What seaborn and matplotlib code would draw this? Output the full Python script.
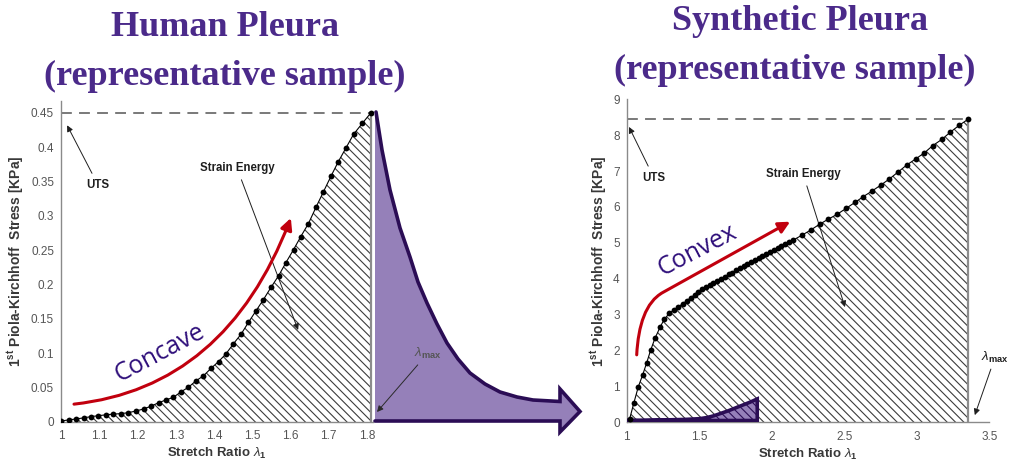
import matplotlib
matplotlib.use("Agg")
import matplotlib.pyplot as plt
from matplotlib.path import Path
from matplotlib.patches import FancyArrowPatch, Polygon
import pandas as pd
import seaborn as sns

# ---------------- data ----------------
# Human pleura: stretch ratio vs 1st Piola-Kirchhoff stress [KPa]
human_stretch = [1.000, 1.020, 1.039, 1.059, 1.078, 1.098, 1.118, 1.137, 1.157, 1.176,
                 1.196, 1.216, 1.235, 1.255, 1.274, 1.294, 1.314, 1.333, 1.353, 1.372,
                 1.392, 1.412, 1.431, 1.451, 1.471, 1.490, 1.510, 1.529, 1.549, 1.569,
                 1.588, 1.608, 1.627, 1.647, 1.667, 1.686, 1.706, 1.725, 1.745, 1.765,
                 1.788, 1.810]
human_stress = [0.0015, 0.003, 0.0044, 0.006, 0.0078, 0.0092, 0.0105, 0.0115, 0.0122, 0.0136,
                0.016, 0.019, 0.023, 0.028, 0.032, 0.036, 0.044, 0.0505, 0.060, 0.067,
                0.078, 0.088, 0.099, 0.114, 0.128, 0.145, 0.162, 0.178, 0.196, 0.213,
                0.232, 0.251, 0.270, 0.289, 0.313, 0.335, 0.358, 0.379, 0.399, 0.419,
                0.435, 0.450]
human_uts = 0.45
human_lmax = 1.81

# Synthetic pleura
synthetic_stretch = [1.020, 1.050, 1.080, 1.110, 1.138, 1.165, 1.195, 1.230, 1.259, 1.294,
                     1.326, 1.356, 1.390, 1.416, 1.442, 1.468, 1.494, 1.520, 1.546, 1.572,
                     1.598, 1.624, 1.650, 1.676, 1.702, 1.728, 1.754, 1.780, 1.806, 1.832,
                     1.858, 1.884, 1.910, 1.936, 1.962, 1.988, 2.014, 2.040, 2.066, 2.092,
                     2.118, 2.149, 2.207, 2.270, 2.330, 2.390, 2.453, 2.512, 2.575, 2.632,
                     2.690, 2.752, 2.811, 2.873, 2.931, 2.993, 3.053, 3.110, 3.172, 3.230,
                     3.294, 3.356]
synthetic_stress = [0.09, 0.55, 0.99, 1.32, 1.66, 2.01, 2.34, 2.65, 2.87, 3.04,
                    3.13, 3.22, 3.31, 3.39, 3.47, 3.55, 3.63, 3.71, 3.77, 3.83,
                    3.89, 3.95, 4.00, 4.06, 4.12, 4.17, 4.23, 4.29, 4.35, 4.40,
                    4.46, 4.52, 4.58, 4.63, 4.69, 4.75, 4.80, 4.86, 4.91, 4.97,
                    5.02, 5.08, 5.21, 5.36, 5.52, 5.66, 5.80, 5.96, 6.13, 6.29,
                    6.44, 6.61, 6.78, 6.98, 7.17, 7.34, 7.51, 7.71, 7.88, 8.08,
                    8.28, 8.45]
synthetic_uts = 8.45
synthetic_lmax = 3.356

# Human curve redrawn on the synthetic stress scale
overlay_stretch = [1.00, 1.10, 1.20, 1.30, 1.40, 1.50, 1.55, 1.60, 1.65, 1.70, 1.75, 1.80, 1.85, 1.90]
overlay_stress = [0.05, 0.05, 0.06, 0.07, 0.08, 0.10, 0.13, 0.18, 0.25, 0.32, 0.40, 0.48, 0.56, 0.65]

# ticks
human_xticks = [1.0, 1.1, 1.2, 1.3, 1.4, 1.5, 1.6, 1.7, 1.8]
human_xticklabels = ["1", "1.1", "1.2", "1.3", "1.4", "1.5", "1.6", "1.7", "1.8"]
human_yticks = [0, 0.05, 0.1, 0.15, 0.2, 0.25, 0.3, 0.35, 0.4, 0.45]
human_yticklabels = ["0", "0.05", "0.1", "0.15", "0.2", "0.25", "0.3", "0.35", "0.4", "0.45"]
synthetic_xticks = [1, 1.5, 2, 2.5, 3, 3.5]
synthetic_xticklabels = ["1", "1.5", "2", "2.5", "3", "3.5"]
synthetic_yticks = [0, 1, 2, 3, 4, 5, 6, 7, 8, 9]
synthetic_yticklabels = ["0", "1", "2", "3", "4", "5", "6", "7", "8", "9"]

# ---------------- style ----------------
sns.set_theme(style="white")
plt.rcParams["font.family"] = ["Liberation Sans", "DejaVu Sans"]
plt.rcParams["mathtext.fontset"] = "custom"
plt.rcParams["mathtext.rm"] = "Liberation Sans"
plt.rcParams["mathtext.it"] = "Liberation Sans:italic"
plt.rcParams["mathtext.bf"] = "Liberation Sans:bold"
plt.rcParams["hatch.linewidth"] = 0.8
plt.rcParams["hatch.color"] = "#3c3c3c"

TITLE = "#4b2a8a"
SHAPE_TXT = "#2e0e7a"
RED = "#c1000e"
PURPLE_FILL = "#9580b9"
PURPLE_EDGE = "#2b0d55"
AXIS_GREY = "#8a8a8a"
LABEL = "#383838"
TICKLBL = "#555555"
HATCH = "\\\\\\\\"

fig = plt.figure(figsize=(10.1, 4.68), dpi=100)
W, H = 1010, 468


def panel(ax, xs, ys, uts, lmax, xlim, ylim, xt, xtl, yt, ytl):
    df = pd.DataFrame({"stretch": xs, "stress": ys})
    ax.fill_between(xs, ys, 0, facecolor="white", edgecolor="#3c3c3c",
                    hatch=HATCH, linewidth=0, zorder=1)
    ax.vlines(lmax, 0, uts, colors="#8c8c8c", lw=1.6, zorder=2)
    ax.hlines(uts, xlim[0], lmax, colors="#6e6e6e", linestyles=(0, (6, 4)), lw=1.3, zorder=2)
    sns.lineplot(data=df, x="stretch", y="stress", ax=ax, color="black", lw=0.8,
                 marker="o", markersize=4.2, markeredgewidth=0, sort=False,
                 estimator=None, zorder=4)
    ax.set_xlim(*xlim)
    ax.set_ylim(*ylim)
    ax.set_xticks(xt)
    ax.set_xticklabels(xtl)
    ax.set_yticks(yt)
    ax.set_yticklabels(ytl)
    for s in ("top", "right"):
        ax.spines[s].set_visible(False)
    for s in ("left", "bottom"):
        ax.spines[s].set_color(AXIS_GREY)
        ax.spines[s].set_linewidth(1.0)
    ax.tick_params(direction="in", length=3, width=0.8, color=AXIS_GREY,
                   labelcolor=TICKLBL, labelsize=8.5)
    ax.tick_params(axis="x", pad=6)
    ax.tick_params(axis="y", pad=5)
    ax.set_facecolor("white")
    ax.set_xlabel("Stretch Ratio $\\lambda_{\\mathbf{1}}$", fontsize=9.5,
                  fontweight="bold", color=LABEL)
    ax.set_ylabel("1$^{\\mathbf{st}}$ Piola-Kirchhoff  Stress [KPa]", fontsize=10,
                  fontweight="bold", color=LABEL)


def note(ax, text, xy, xytext, **kw):
    ax.annotate(text, xy=xy, xytext=xytext, ha="center", va="center",
                fontsize=8.3, fontweight="bold", color="#1e1e1e",
                arrowprops=dict(arrowstyle="-|>", color="#1e1e1e", lw=0.7,
                                mutation_scale=9, shrinkA=2, shrinkB=0), **kw)


# ---------------- human pleura ----------------
ax1 = fig.add_axes([61 / W, 46 / H, 311.7 / W, 321.4 / H])
panel(ax1, human_stretch, human_stress, human_uts, human_lmax, (1.0, 1.815), (0, 0.468),
      human_xticks, human_xticklabels, human_yticks, human_yticklabels)
ax1.yaxis.set_label_coords(-0.112, 0.5)
ax1.xaxis.set_label_coords(0.5, -0.075)

red1 = Path([(1.034, 0.026), (1.43, 0.05), (1.601, 0.297)],
            [Path.MOVETO, Path.CURVE3, Path.CURVE3])
ax1.add_patch(FancyArrowPatch(path=red1, arrowstyle="-|>", mutation_scale=17, lw=2.2,
                              color=RED, transform=ax1.transData, zorder=5))
ax1.text(1.259, 0.1005, "Concave", rotation=28, rotation_mode="anchor", ha="center",
         va="center", fontsize=18, family="Open Sans", color=SHAPE_TXT, zorder=6)
note(ax1, "UTS", (1.016, 0.432), (1.097, 0.345))
note(ax1, "Strain Energy", (1.62, 0.134), (1.46, 0.37))

# ---------------- synthetic pleura ----------------
ax2 = fig.add_axes([626.7 / W, 45.7 / H, 362.6 / W, 323 / H])
panel(ax2, synthetic_stretch, synthetic_stress, synthetic_uts, synthetic_lmax, (1, 3.5), (0, 9),
      synthetic_xticks, synthetic_xticklabels, synthetic_yticks, synthetic_yticklabels)
ax2.yaxis.set_label_coords(-0.05, 0.5)
ax2.xaxis.set_label_coords(0.5, -0.075)

ax2.fill_between(overlay_stretch, overlay_stress, overlay_stress[0], facecolor=PURPLE_FILL,
                 edgecolor=PURPLE_EDGE, hatch=HATCH, linewidth=0, zorder=3)
outline_x = overlay_stretch + [overlay_stretch[-1], overlay_stretch[0]]
outline_y = overlay_stress + [overlay_stress[0], overlay_stress[0]]
ax2.plot(outline_x, outline_y, color=PURPLE_EDGE, lw=2.6, solid_joinstyle="miter", zorder=3.5)

red2 = Path([(1.069, 1.88), (1.08, 2.7), (1.13, 3.35), (1.25, 3.62), (2.127, 5.59)],
            [Path.MOVETO, Path.CURVE4, Path.CURVE4, Path.CURVE4, Path.LINETO])
ax2.add_patch(FancyArrowPatch(path=red2, arrowstyle="-|>", mutation_scale=17, lw=2.2,
                              color=RED, transform=ax2.transData, zorder=5))
ax2.text(1.485, 4.80, "Convex", rotation=27.5, rotation_mode="anchor", ha="center",
         va="center", fontsize=18, family="Open Sans", color=SHAPE_TXT, zorder=6)
note(ax2, "UTS", (1.016, 8.23), (1.188, 6.81))
note(ax2, "Strain Energy", (2.505, 3.21), (2.216, 6.92))
ax2.annotate("$\\lambda_{\\mathbf{max}}$", xy=(3.40, 0.2), xytext=(3.54, 1.82),
             ha="center", va="center", fontsize=9.5, color="#1e1e1e", annotation_clip=False,
             arrowprops=dict(arrowstyle="-|>", color="#1e1e1e", lw=0.7,
                             mutation_scale=9, shrinkA=1, shrinkB=0))

# ---------------- connecting arrow and titles ----------------
ov = fig.add_axes([0, 0, 1, 1])
ov.set_xlim(0, W)
ov.set_ylim(H, 0)
ov.axis("off")

top_curve = [(376, 112), (382, 150), (390, 190), (400, 228), (410, 257), (418, 282),
             (427, 303), (437, 324), (447, 343), (458, 359), (470, 373), (485, 384),
             (500, 392), (517, 397), (533, 400), (560, 401.5)]
head = [(560, 389), (580, 411.5), (560, 432), (560, 421)]
bottom = [(375, 421)]
shape = top_curve + head + bottom + [(375, 112)]
ov.add_patch(Polygon(shape, closed=True, facecolor=PURPLE_FILL, edgecolor="none", zorder=2))
edge = top_curve + head + bottom
ov.plot([p[0] for p in edge], [p[1] for p in edge], color=PURPLE_EDGE, lw=2.6,
        solid_joinstyle="miter", zorder=3)
ov.annotate("$\\lambda_{\\mathbf{max}}$", xy=(377, 412), xytext=(428, 353), ha="center",
            va="center", fontsize=9.5, color="#555555",
            arrowprops=dict(arrowstyle="-|>", color="#2a2a2a", lw=0.7,
                            mutation_scale=9, shrinkA=1, shrinkB=0), zorder=4)

title_kw = dict(ha="center", va="center", fontsize=26, fontweight="bold",
                family="Liberation Serif", color=TITLE)
ov.text(225, 27, "Human Pleura", **title_kw)
ov.text(225, 76, "(representative sample)", **title_kw)
ov.text(800, 22, "Synthetic Pleura", **title_kw)
ov.text(795, 70, "(representative sample)", **title_kw)

fig.savefig("out.png", dpi=100, facecolor="white")
